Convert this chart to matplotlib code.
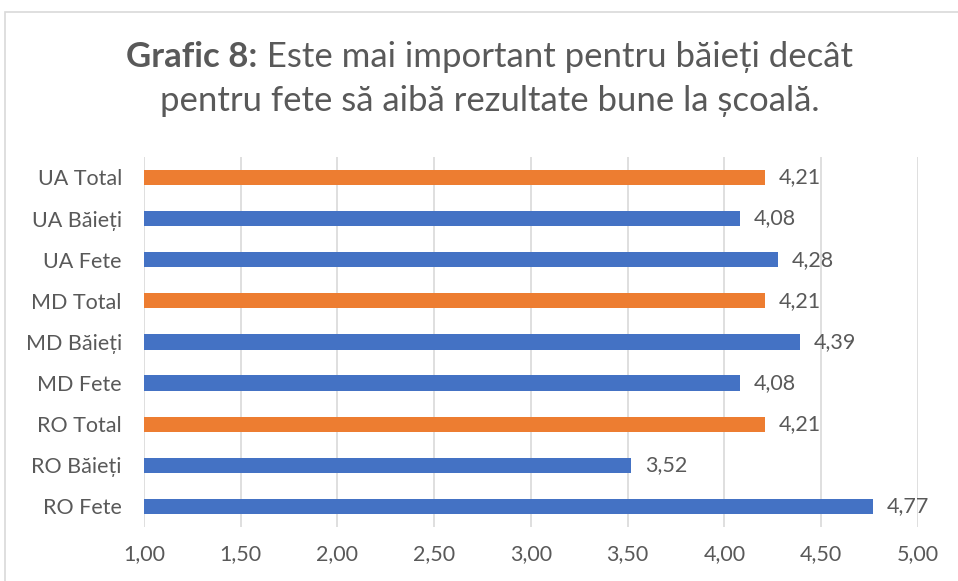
import matplotlib
matplotlib.use("Agg")
import matplotlib.pyplot as plt
from matplotlib.patches import Rectangle

categories = ["RO Fete", "RO Băieți", "RO Total", "MD Fete", "MD Băieți", "MD Total",
              "UA Fete", "UA Băieți", "UA Total"]
values = [4.77, 3.52, 4.21, 4.08, 4.39, 4.21, 4.28, 4.08, 4.21]
is_total = [False, False, True, False, False, True, False, False, True]
x_ticks = [1.0, 1.5, 2.0, 2.5, 3.0, 3.5, 4.0, 4.5, 5.0]

blue = "#4472C4"
orange = "#ED7D31"
grey = "#595959"

plt.rcParams['font.family'] = ['Lato', 'DejaVu Sans']

fig = plt.figure(figsize=(9.58, 5.81), dpi=100)
ax = fig.add_axes([0.1503, 0.093, 0.8077, 0.637])

# chart border
fig.patches.append(Rectangle((5 / 958, -0.05), 1.1, (581 - 12) / 581 + 0.05,
                             transform=fig.transFigure, fill=False,
                             edgecolor="#d9d9d9", linewidth=1.2))

colors = [orange if t else blue for t in is_total]
ypos = list(range(len(categories)))
ax.barh(ypos, [v - 1.0 for v in values], left=1.0, height=0.37, color=colors, zorder=3)

for y, v in zip(ypos, values):
    ax.text(v + 0.07, y, f"{v:.2f}".replace(".", ","), va="center", ha="left",
            fontsize=15.5, color=grey)

ax.set_xlim(1.0, 5.0)
ax.set_ylim(-0.5, len(categories) - 0.5)
ax.set_xticks(x_ticks)
ax.set_xticklabels([f"{t:.2f}".replace(".", ",") for t in x_ticks])
ax.set_yticks(ypos)
ax.set_yticklabels(categories)
ax.tick_params(axis="both", length=0, labelsize=15.5, labelcolor=grey)
ax.tick_params(axis="x", pad=12)
ax.tick_params(axis="y", pad=16)
ax.grid(axis="x", color="#d9d9d9", linewidth=1.2, zorder=0)
for s in ax.spines.values():
    s.set_visible(False)

# title: bold prefix + regular text, centred together
title_size = 25
renderer = fig.canvas.get_renderer()
t_bold = fig.text(0, 0.902, "Grafic 8:", ha="left", va="center", fontsize=title_size,
                  color=grey, fontweight="bold")
t_rest = fig.text(0, 0.902, " Este mai important pentru băieți decât", ha="left",
                  va="center", fontsize=title_size, color=grey)
w_bold = t_bold.get_window_extent(renderer).width / fig.bbox.width
w_rest = t_rest.get_window_extent(renderer).width / fig.bbox.width
x0 = 0.511 - (w_bold + w_rest) / 2
t_bold.set_x(x0)
t_rest.set_x(x0 + w_bold)
fig.text(0.511, 0.826, "pentru fete să aibă rezultate bune la școală.",
         ha="center", va="center", fontsize=title_size, color=grey)

fig.savefig("out.png", dpi=100)
